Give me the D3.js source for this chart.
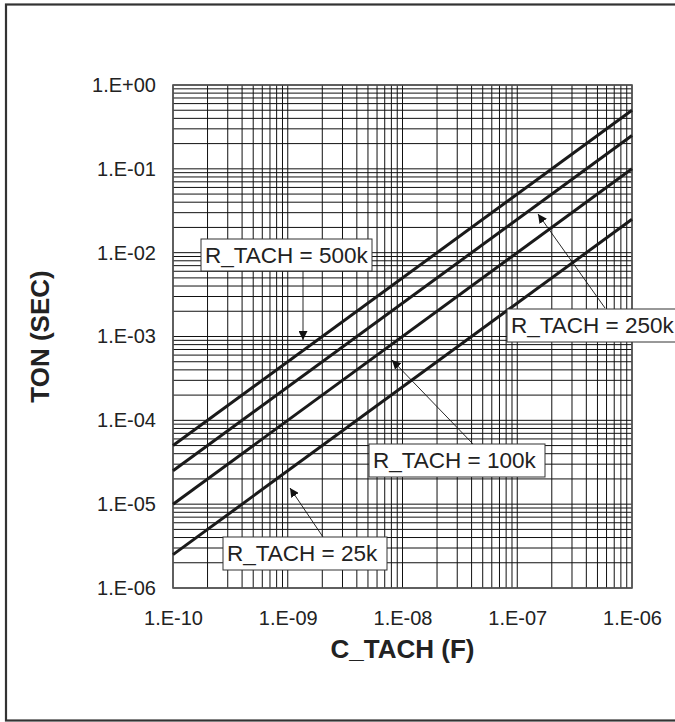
<!DOCTYPE html>
<html>
<head>
<meta charset="utf-8">
<script src="https://cdn.jsdelivr.net/npm/d3@7"></script>
<style>
  body { margin: 0; background: #fff; }
  svg { display: block; font-family: "Liberation Sans", Arial, sans-serif; }
</style>
</head>
<body>
<div id="wrapper"></div>
<script>
const cTach = [1e-10, 1e-6];
const ton500k = [5e-5, 5e-1];
const ton250k = [2.5e-5, 2.5e-1];
const ton100k = [1e-5, 1e-1];
const ton25k = [2.5e-6, 2.5e-2];
const seriesNames = ["R_TACH = 500k", "R_TACH = 250k", "R_TACH = 100k", "R_TACH = 25k"];
const xTicks = [1e-10, 1e-9, 1e-8, 1e-7, 1e-6];
const yTicks = [1e-6, 1e-5, 1e-4, 1e-3, 1e-2, 1e-1, 1e0];

const width = 675
const height = 722
let dimensions = {
    margin: { top: 85, right: 43, bottom: 134, left: 173 },
}
dimensions.boundedWidth = width - dimensions.margin.left - dimensions.margin.right
dimensions.boundedHeight = height - dimensions.margin.top - dimensions.margin.bottom

const svg = d3.select("#wrapper")
    .append("svg")
    .attr("width", width)
    .attr("height", height);

// outer frame (right edge falls off the page)
svg.append("rect")
    .attr("x", 6).attr("y", 4.5)
    .attr("width", 700).attr("height", 716)
    .attr("fill", "none")
    .attr("stroke", "#333")
    .attr("stroke-width", 2.2);

const bounds = svg.append("g")
    .attr("transform", `translate(${dimensions.margin.left},${dimensions.margin.top})`);

const xScaler = d3.scaleLog()
    .domain([1e-10, 1e-6])
    .range([0, dimensions.boundedWidth])

const yScaler = d3.scaleLog()
    .domain([1e-6, 1])
    .range([dimensions.boundedHeight, 0])

// grid
bounds.append("g")
    .selectAll("line")
    .data(xScaler.ticks())
    .join("line")
    .attr("x1", d => xScaler(d)).attr("x2", d => xScaler(d))
    .attr("y1", 0).attr("y2", dimensions.boundedHeight)
    .attr("stroke", "#111")
    .attr("stroke-width", 1);

bounds.append("g")
    .selectAll("line")
    .data(yScaler.ticks())
    .join("line")
    .attr("y1", d => yScaler(d)).attr("y2", d => yScaler(d))
    .attr("x1", 0).attr("x2", dimensions.boundedWidth)
    .attr("stroke", "#111")
    .attr("stroke-width", 1);

// plot border
bounds.append("rect")
    .attr("width", dimensions.boundedWidth)
    .attr("height", dimensions.boundedHeight)
    .attr("fill", "none")
    .attr("stroke", "#555")
    .attr("stroke-width", 1.6);

const sciFormat = d => {
    const e = Math.round(Math.log10(d));
    return "1.E" + (e < 0 ? "-" : "+") + String(Math.abs(e)).padStart(2, "0");
}

const xAxisGen = d3.axisBottom(xScaler)
    .tickValues(xTicks)
    .tickSize(0)
    .tickFormat(sciFormat);
const xAxis = bounds.append("g")
    .attr("transform", `translate(0,${dimensions.boundedHeight})`)
    .call(xAxisGen);
xAxis.select(".domain").remove();
xAxis.selectAll("text")
    .attr("y", 37).attr("dy", null)
    .attr("fill", "#222")
    .attr("font-size", "20px")
    .attr("font-family", "Liberation Sans, Arial, sans-serif");

const yAxisGen = d3.axisLeft(yScaler)
    .tickValues(yTicks)
    .tickSize(0)
    .tickPadding(17)
    .tickFormat(sciFormat);
const yAxis = bounds.append("g")
    .call(yAxisGen);
yAxis.select(".domain").remove();
yAxis.selectAll("text")
    .attr("fill", "#222")
    .attr("font-size", "20px")
    .attr("font-family", "Liberation Sans, Arial, sans-serif");

// axis titles
bounds.append("text")
    .attr("x", dimensions.boundedWidth / 2)
    .attr("y", dimensions.boundedHeight + 70)
    .text("C_TACH (F)")
    .attr("fill", "#222")
    .attr("font-size", "26px")
    .attr("font-weight", "bold")
    .attr("text-anchor", "middle");

bounds.append("text")
    .attr("transform", `translate(${49 - dimensions.margin.left},${dimensions.boundedHeight / 2}) rotate(-90)`)
    .text("TON (SEC)")
    .attr("fill", "#222")
    .attr("font-size", "26px")
    .attr("font-weight", "bold")
    .attr("text-anchor", "middle");

// lines
const series = [ton500k, ton250k, ton100k, ton25k];
const lineGen = d3.line()
    .x((d, i) => xScaler(cTach[i]))
    .y(d => yScaler(d));

bounds.append("g")
    .selectAll("path")
    .data(series)
    .join("path")
    .attr("d", d => lineGen(d))
    .attr("fill", "none")
    .attr("stroke", "#1a1a1a")
    .attr("stroke-width", 3);

// callouts: box position and arrow, in page pixels
const callouts = [
    { name: seriesNames[0], box: [201, 239, 171, 32], from: [303, 265], to: [303, 340] },
    { name: seriesNames[1], box: [507, 309, 200, 33], from: [605, 308], to: [538, 214] },
    { name: seriesNames[2], box: [369, 444, 176, 33], from: [473, 444], to: [392, 360] },
    { name: seriesNames[3], box: [223, 537, 164, 33], from: [323, 537], to: [290, 488] },
];

svg.append("defs").append("marker")
    .attr("id", "head")
    .attr("viewBox", "0 0 10 10")
    .attr("refX", 10).attr("refY", 5)
    .attr("markerWidth", 9).attr("markerHeight", 9)
    .attr("markerUnits", "userSpaceOnUse")
    .attr("orient", "auto")
    .append("path")
    .attr("d", "M0,0 L10,5 L0,10 z")
    .attr("fill", "#111");

const notes = svg.append("g");
callouts.forEach(c => {
    notes.append("line")
        .attr("x1", c.from[0]).attr("y1", c.from[1])
        .attr("x2", c.to[0]).attr("y2", c.to[1])
        .attr("stroke", "#111")
        .attr("stroke-width", 0.9)
        .attr("marker-end", "url(#head)");
    notes.append("rect")
        .attr("x", c.box[0]).attr("y", c.box[1])
        .attr("width", c.box[2]).attr("height", c.box[3])
        .attr("fill", "#fff")
        .attr("stroke", "#333")
        .attr("stroke-width", 1);
    notes.append("text")
        .attr("x", c.box[0] + 4)
        .attr("y", c.box[1] + 24)
        .text(c.name)
        .attr("fill", "#222")
        .attr("font-size", "22.5px");
});
</script>
</body>
</html>
